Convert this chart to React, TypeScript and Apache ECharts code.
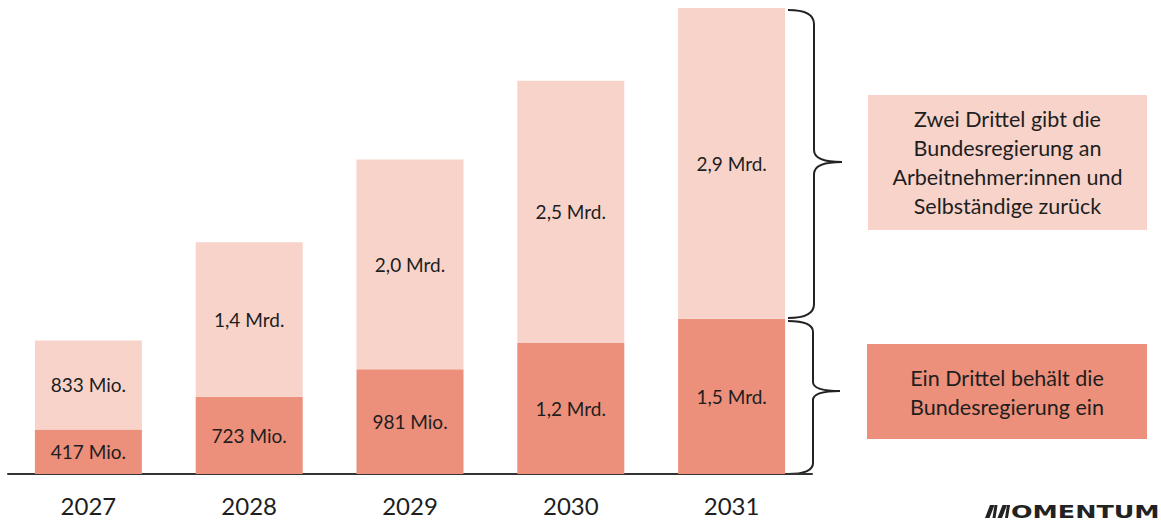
import React, { useEffect, useRef } from "react";
import * as echarts from "echarts";

const years = ["2027", "2028", "2029", "2030", "2031"];
const keptValues = [417, 723, 981, 1227, 1454];
const returnedValues = [833, 1446, 1962, 2454, 2908];
const keptLabels = ["417 Mio.", "723 Mio.", "981 Mio.", "1,2 Mrd.", "1,5 Mrd."];
const returnedLabels = ["833 Mio.", "1,4 Mrd.", "2,0 Mrd.", "2,5 Mrd.", "2,9 Mrd."];
const upperNote = "Zwei Drittel gibt die\nBundesregierung an\nArbeitnehmer:innen und\nSelbständige zurück";
const lowerNote = "Ein Drittel behält die\nBundesregierung ein";
const brandText = "OMENTUM";

const LIGHT = "#F7D3CA";
const DARK = "#EC8F7B";
const INK = "#1e1e1e";
const FONT = "Lato, 'Noto Sans', sans-serif";

let registered = false;
function registerShapes() {
  if (registered) return;
  registered = true;
  const top =
    "M788,10 Q814,10 814,24 L814,150 Q814,162 842,162 Q814,162 814,174 L814,304 Q814,318 788,318";
  const bottom =
    "M788,321 Q813,321 813,332 L813,382 Q813,391 840,391 Q813,391 813,400 L813,463 Q813,474 788,474";
  echarts.graphic.registerShape("braceTop", echarts.graphic.extendPath(top, {}) as any);
  echarts.graphic.registerShape("braceBottom", echarts.graphic.extendPath(bottom, {}) as any);
}

export default function App() {
  const ref = useRef<HTMLDivElement>(null);
  useEffect(() => {
    if (!ref.current) return;
    registerShapes();
    const chart = echarts.init(ref.current, null, { renderer: "svg" });
    const labelStyle = {
      show: true,
      position: "inside" as const,
      color: INK,
      fontSize: 19,
      fontFamily: FONT,
    };
    chart.setOption({
      animation: false,
      grid: { left: 8, right: 349, top: 8, bottom: 49, containLabel: false },
      xAxis: {
        type: "category",
        data: years,
        axisLine: { show: true, lineStyle: { color: "#333", width: 2 } },
        axisTick: { show: false },
        axisLabel: { color: INK, fontSize: 24, fontFamily: FONT, margin: 19 },
      },
      yAxis: {
        type: "value",
        min: 0,
        max: 4362,
        show: false,
        splitLine: { show: false },
      },
      series: [
        {
          type: "bar",
          stack: "t",
          barWidth: 107,
          data: keptValues,
          itemStyle: { color: DARK },
          label: { ...labelStyle, formatter: (p: any) => keptLabels[p.dataIndex] },
        },
        {
          type: "bar",
          stack: "t",
          barWidth: 107,
          data: returnedValues,
          itemStyle: { color: LIGHT },
          label: { ...labelStyle, formatter: (p: any) => returnedLabels[p.dataIndex] },
        },
      ],
      graphic: [
        { type: "braceTop", style: { fill: "none", stroke: "#222", lineWidth: 2 } },
        { type: "braceBottom", style: { fill: "none", stroke: "#222", lineWidth: 2 } },
        {
          type: "rect",
          shape: { x: 868, y: 95, width: 279, height: 135 },
          style: { fill: LIGHT },
        },
        {
          type: "text",
          x: 1007.5,
          y: 162.5,
          style: {
            text: upperNote,
            fill: INK,
            font: `21.5px ${FONT}`,
            align: "center",
            verticalAlign: "middle",
            lineHeight: 29,
          },
        },
        {
          type: "rect",
          shape: { x: 867, y: 344, width: 280, height: 95 },
          style: { fill: DARK },
        },
        {
          type: "text",
          x: 1007,
          y: 392,
          style: {
            text: lowerNote,
            fill: INK,
            font: `21.5px ${FONT}`,
            align: "center",
            verticalAlign: "middle",
            lineHeight: 29,
          },
        },
        { type: "polygon", shape: { points: [[985, 518], [989.5, 518], [994.5, 505], [990, 505]] }, style: { fill: "#222" } },
        { type: "polygon", shape: { points: [[992.5, 518], [995.5, 518], [997.5, 505], [994.5, 505]] }, style: { fill: "#222" } },
        { type: "polygon", shape: { points: [[997.5, 518], [1002, 518], [1007, 505], [1002.5, 505]] }, style: { fill: "#222" } },
        { type: "polygon", shape: { points: [[1005, 518], [1008, 518], [1010, 505], [1007, 505]] }, style: { fill: "#222" } },
        {
          type: "text",
          x: 1011,
          y: 511.5,
          scaleX: 1.41,
          style: {
            text: brandText,
            fill: "#222",
            font: `bold 18px 'DejaVu Sans', sans-serif`,
            align: "left",
            verticalAlign: "middle",
          },
        },
      ],
    });
    return () => chart.dispose();
  }, []);
  return (
    <div
      ref={ref}
      style={{ position: "absolute", left: 0, top: 0, width: 1161, height: 523, background: "#fff" }}
    />
  );
}
